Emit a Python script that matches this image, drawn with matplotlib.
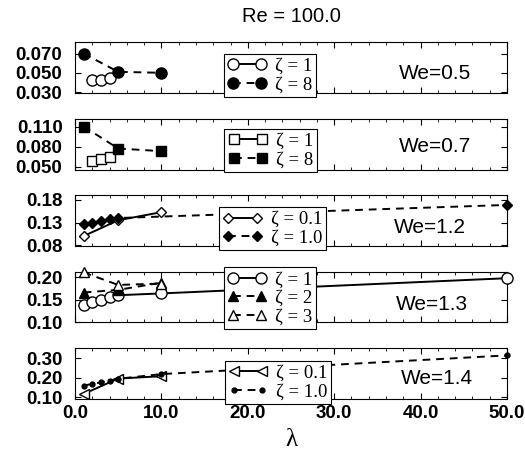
import matplotlib
matplotlib.use("Agg")
import matplotlib.pyplot as plt
from matplotlib.ticker import MultipleLocator, FixedLocator, FormatStrFormatter

# We = 0.5
lam_05_a = [2, 3, 4]
val_05_a = [0.042, 0.043, 0.045]
lam_05_b = [1, 5, 10]
val_05_b = [0.070, 0.051, 0.050]

# We = 0.7
lam_07_a = [2, 3, 4]
val_07_a = [0.059, 0.062, 0.065]
lam_07_b = [1, 5, 10]
val_07_b = [0.110, 0.077, 0.073]

# We = 1.2
lam_12_a = [1, 5, 10]
val_12_a = [0.100, 0.135, 0.153]
lam_12_b = [1, 2, 3, 4, 5, 50]
val_12_b = [0.126, 0.130, 0.134, 0.137, 0.140, 0.169]

# We = 1.3
lam_13_a = [1, 2, 3, 4, 5, 10, 50]
val_13_a = [0.139, 0.145, 0.150, 0.157, 0.160, 0.164, 0.198]
lam_13_b = [1, 5, 10]
val_13_b = [0.166, 0.172, 0.188]
lam_13_c = [1, 5, 10]
val_13_c = [0.211, 0.183, 0.186]

# We = 1.4
lam_14_a = [1, 5, 10]
val_14_a = [0.116, 0.195, 0.207]
lam_14_b = [1, 2, 3, 4, 5, 10, 50]
val_14_b = [0.158, 0.168, 0.175, 0.184, 0.194, 0.218, 0.314]

we_labels = ["We=0.5", "We=0.7", "We=1.2", "We=1.3", "We=1.4"]
yticks = [[0.030, 0.050, 0.070], [0.050, 0.080, 0.110], [0.08, 0.13, 0.18],
          [0.10, 0.15, 0.20], [0.10, 0.20, 0.30]]
yfmt = ["%.3f", "%.3f", "%.2f", "%.2f", "%.2f"]
ylims = [(0.029, 0.082), (0.0455, 0.122), (0.078, 0.191), (0.099, 0.213), (0.09, 0.352)]
xticks = [0, 10, 20, 30, 40, 50]

SANS = "Liberation Sans"
SERIF = "Liberation Serif"

open_c = dict(marker="o", ms=8, mfc="white", mec="black", ls="-")
fill_c = dict(marker="o", ms=8, mfc="black", mec="black", ls="--")
open_s = dict(marker="s", ms=7, mfc="white", mec="black", ls="-")
fill_s = dict(marker="s", ms=7, mfc="black", mec="black", ls="--")
open_d = dict(marker="D", ms=5.5, mfc="white", mec="black", ls="-")
fill_d = dict(marker="D", ms=5.5, mfc="black", mec="black", ls="--")
fill_t = dict(marker="^", ms=7.5, mfc="black", mec="black", ls="--")
open_t = dict(marker="^", ms=7.5, mfc="white", mec="black", ls="--")
open_l = dict(marker="<", ms=7.5, mfc="white", mec="black", ls="-")
dot = dict(marker="o", ms=3.5, mfc="black", mec="black", ls="--")

panels = [
    [(lam_05_a, val_05_a, open_c, "ζ = 1"), (lam_05_b, val_05_b, fill_c, "ζ = 8")],
    [(lam_07_a, val_07_a, open_s, "ζ = 1"), (lam_07_b, val_07_b, fill_s, "ζ = 8")],
    [(lam_12_a, val_12_a, open_d, "ζ = 0.1"), (lam_12_b, val_12_b, fill_d, "ζ = 1.0")],
    [(lam_13_a, val_13_a, open_c, "ζ = 1"), (lam_13_b, val_13_b, fill_t, "ζ = 2"),
     (lam_13_c, val_13_c, open_t, "ζ = 3")],
    [(lam_14_a, val_14_a, open_l, "ζ = 0.1"), (lam_14_b, val_14_b, dot, "ζ = 1.0")],
]

# legend anchor (x, top) and We text position, axes fractions
leg_pos = [(0.451, 0.77), (0.453, 0.80), (0.457, 0.76), (0.451, 1.08), (0.47, 0.745)]
we_pos = [(0.833, 0.39), (0.833, 0.45), (0.822, 0.37), (0.826, 0.35), (0.838, 0.41)]

fig = plt.figure(figsize=(5.25, 4.51), dpi=100)
gs = fig.add_gridspec(5, 1, left=75 / 525, right=507 / 525,
                      top=1 - 42 / 451, bottom=1 - 399 / 451, hspace=0.5)

for i, series in enumerate(panels):
    ax = fig.add_subplot(gs[i])
    for x, y, style, label in series:
        ax.plot(x, y, color="black", lw=1.4, label=label, clip_on=False, zorder=3,
                **style)
        if style["ls"] == "--":
            ax.lines[-1].set_dashes((4, 3))
    ax.set_xlim(0, 50)
    ax.set_ylim(*ylims[i])
    ax.xaxis.set_major_locator(FixedLocator(xticks))
    ax.xaxis.set_minor_locator(MultipleLocator(2))
    ax.yaxis.set_major_locator(FixedLocator(yticks[i]))
    ax.yaxis.set_major_formatter(FormatStrFormatter(yfmt[i]))
    ax.xaxis.set_major_formatter(FormatStrFormatter("%.1f"))
    ax.tick_params(which="both", direction="in", top=True, right=True)
    ax.tick_params(which="major", length=4, width=0.8)
    ax.tick_params(which="minor", length=2, width=0.6)
    ax.tick_params(axis="y", pad=9)
    ax.tick_params(axis="x", pad=4, labelbottom=(i == 4))
    for s in ax.spines.values():
        s.set_linewidth(0.8)
    for t in ax.get_yticklabels() + ax.get_xticklabels():
        t.set_fontfamily(SANS)
        t.set_fontweight("bold")
        t.set_fontsize(13.5)
    ax.text(we_pos[i][0], we_pos[i][1], we_labels[i], transform=ax.transAxes,
            ha="center", va="center", fontsize=15, family=SANS)
    leg = ax.legend(loc="upper center", bbox_to_anchor=leg_pos[i], numpoints=2,
                    prop={"family": SERIF, "size": 13.5}, frameon=True, fancybox=False,
                    framealpha=1, edgecolor="black", borderpad=0.2, labelspacing=0.08,
                    handlelength=2.1, handletextpad=0.45, borderaxespad=0)
    leg.get_frame().set_linewidth(0.8)
    leg.set_zorder(10)

fig.text(291 / 525, 1 - 16 / 451, "Re = 100.0", ha="center", va="center",
         fontsize=14.5, family=SANS)
fig.text(291 / 525, 1 - 440 / 451, "λ", ha="center", va="center",
         fontsize=18, family=SERIF)

fig.savefig("out.png", dpi=100)
